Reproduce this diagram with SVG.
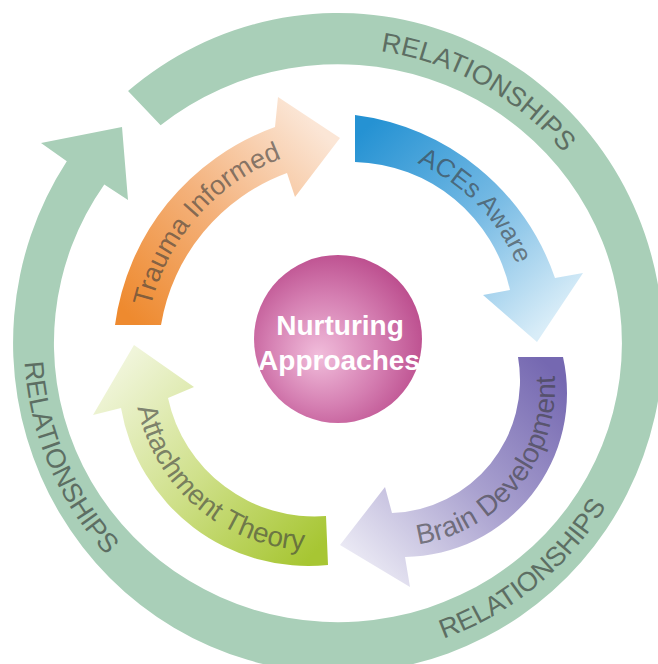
<svg xmlns="http://www.w3.org/2000/svg" width="658" height="664" viewBox="0 0 658 664">
<defs>
<style>
.lbl{font-family:"Liberation Sans",Arial,sans-serif;fill:#3c3c3c;fill-opacity:0.62}
.rel{font-family:"Liberation Sans",Arial,sans-serif;font-size:27px;fill:#5d6e63}
.ctr{font-family:"Liberation Sans",Arial,sans-serif;font-size:28px;font-weight:bold;fill:#ffffff;text-anchor:middle}
</style>
<linearGradient id="gOrange" gradientUnits="userSpaceOnUse" x1="138" y1="325" x2="330" y2="140">
<stop offset="0" stop-color="#ee8a2f"/><stop offset="0.5" stop-color="#f4b27c"/><stop offset="1" stop-color="#fbe6d6"/>
</linearGradient>
<linearGradient id="gBlue" gradientUnits="userSpaceOnUse" x1="355" y1="138" x2="537" y2="335">
<stop offset="0" stop-color="#2592d3"/><stop offset="0.5" stop-color="#72b8e3"/><stop offset="1" stop-color="#d9edf8"/>
</linearGradient>
<linearGradient id="gPurple" gradientUnits="userSpaceOnUse" x1="540" y1="357" x2="345" y2="555">
<stop offset="0" stop-color="#7568b1"/><stop offset="0.5" stop-color="#a9a1cf"/><stop offset="1" stop-color="#ecebf5"/>
</linearGradient>
<linearGradient id="gGreen" gradientUnits="userSpaceOnUse" x1="327" y1="540" x2="134" y2="350">
<stop offset="0" stop-color="#a7c633"/><stop offset="0.5" stop-color="#cfe08a"/><stop offset="1" stop-color="#f0f5da"/>
</linearGradient>
<radialGradient id="gCenter" cx="0.45" cy="0.55" r="0.6" fx="0.38" fy="0.6">
<stop offset="0" stop-color="#f1bddb"/><stop offset="0.55" stop-color="#d57fb2"/><stop offset="1" stop-color="#ba4a8b"/>
</radialGradient>
<path id="pRelTop" d="M282.2,53.3 A295,295 0 0 1 613.6,237.8"/>
<path id="pRelBR" d="M333.6,657 A314,314 0 0 0 646.4,401.8"/>
<path id="pRelL" d="M37.7,251.2 A314,314 0 0 0 195.4,622.8"/>
<path id="pTrauma" d="M145.4,369.2 A211,211 0 0 1 342.8,145.4"/>
<path id="pAces" d="M340,146 A194,194 0 0 1 532,342"/>
<path id="pBrain" d="M397.8,546 A160,160 0 0 0 552.1,355.5"/>
<path id="pAttach" d="M134,370.4 A178,178 0 0 0 341.4,547.6"/>
</defs>
<rect width="658" height="664" fill="#ffffff"/>
<g id="connectors">
<g id="relationships-ring">
<path d="M128.05,91.1 A325,330 0 1 1 66.8,161.2 L41,143 L122,127 L128,200 L104.3,184.5 A284,279 0 1 0 160.6,125.2 Z" fill="#a9cfb8"/>
<text class="rel" text-anchor="middle"><textPath href="#pRelTop" startOffset="50%">RELATIONSHIPS</textPath></text>
<text class="rel" text-anchor="middle"><textPath href="#pRelBR" startOffset="50%">RELATIONSHIPS</textPath></text>
<text class="rel" text-anchor="middle"><textPath href="#pRelL" startOffset="50%">RELATIONSHIPS</textPath></text>
</g>
</g>
<g id="node-trauma">
<path d="M161,325 L115,325 A245,245 0 0 1 275,127 L278,97 L340,138 L295,197 L287,173 A196,196 0 0 0 161,325 Z" fill="url(#gOrange)"/>
<text class="lbl" font-size="27" text-anchor="middle"><textPath href="#pTrauma" startOffset="50%">Trauma Informed</textPath></text>
</g>
<g id="node-aces">
<path d="M355,115 A244,244 0 0 1 555,278 L583,273 L537,342 L483,295 L510,290 A163,163 0 0 0 355,162 Z" fill="url(#gBlue)"/>
<text class="lbl" font-size="26" text-anchor="middle"><textPath href="#pAces" startOffset="50%">ACEs Aware</textPath></text>
</g>
<g id="node-brain">
<path d="M563,357 A164,164 0 0 1 405,557 L410,587 L340,545 L385,487 L392,513 A133,133 0 0 0 518,357 Z" fill="url(#gPurple)"/>
<text class="lbl" font-size="28" text-anchor="middle"><textPath href="#pBrain" startOffset="50%">Brain Development</textPath></text>
</g>
<g id="node-attachment">
<path d="M328,565 A190,190 0 0 1 121,408 L93,415 L134,345 L194,387 L168,398 A150,150 0 0 0 326,516 Z" fill="url(#gGreen)"/>
<text class="lbl" font-size="28" text-anchor="middle"><textPath href="#pAttach" startOffset="50%">Attachment Theory</textPath></text>
</g>
<g id="node-center">
<circle cx="338" cy="339" r="84" fill="url(#gCenter)"/>
<text class="ctr" x="340" y="335">Nurturing</text>
<text class="ctr" x="339" y="370">Approaches</text>
</g>
</svg>
